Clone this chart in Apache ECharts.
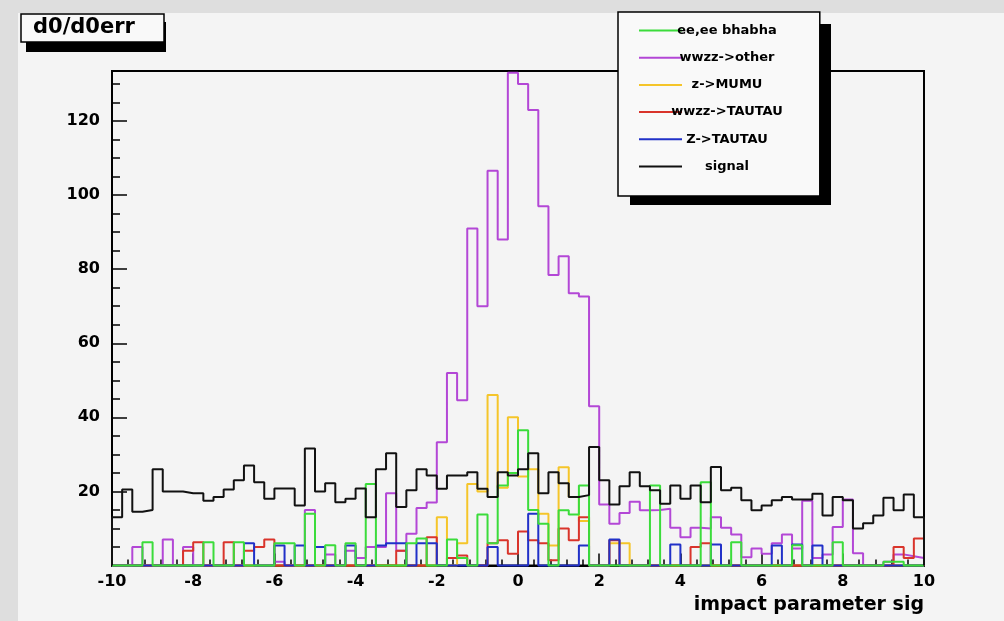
<!DOCTYPE html>
<html>
<head>
<meta charset="utf-8">
<title>d0/d0err</title>
<script src="https://cdn.jsdelivr.net/npm/echarts@6/dist/echarts.min.js"></script>
<style>
  html, body { margin: 0; padding: 0; background: #f4f4f4; }
  #chart { width: 1004px; height: 621px; }
</style>
</head>
<body>
<div id="chart"></div>
<script>
// histogram: 80 bins of 0.25 from -10 to 10
const xMin = -10
const xMax = 10
const nBins = 80

const legendNames = ['ee,ee bhabha', 'wwzz->other', 'z->MUMU', 'wwzz->TAUTAU', 'Z->TAUTAU', 'signal']

const bhabha = [0, 0, 0, 6.3, 0, 0, 0, 0, 0, 6.3,
  0, 0, 6.3, 0, 0, 0, 6, 6, 0, 14,
  0, 5.5, 0, 6, 0, 22, 0, 0, 0, 6,
  7.3, 0, 0, 7, 2, 0, 13.8, 6, 21.6, 25,
  36.5, 15, 11.3, 0, 14.9, 13.8, 21.6, 0, 0, 0,
  0, 0, 0, 21.6, 0, 0, 0, 0, 22.5, 0,
  0, 6.3, 0, 0, 0, 0, 0, 5.5, 0, 0,
  0, 6.3, 0, 0, 0, 0, 1, 1, 0, 0]

const wwzzOther = [0, 0, 5, 0, 0, 7, 0, 5, 0, 0,
  0, 0, 0, 0, 0, 0, 1, 0, 0, 15,
  0, 3, 0, 4, 2, 5, 5, 19.5, 4, 8.6,
  15.5, 17, 33.3, 52, 44.6, 91, 70, 106.6, 88, 133,
  130, 123, 97, 78.4, 83.5, 73.5, 72.6, 43, 16.5, 11.3,
  14.2, 17.2, 14.9, 15, 15.3, 10.2, 7.6, 10.2, 10, 13,
  10.2, 8.4, 2.2, 4.6, 3.2, 6, 8.4, 4.6, 17.5, 2,
  3, 10.4, 17.8, 3.3, 0, 0, 1, 3, 2.5, 2]

const zMumu = [0, 0, 0, 0, 0, 0, 0, 0, 0, 0,
  0, 0, 0, 0, 0, 0, 0, 0, 0, 0,
  0, 0, 0, 0, 0, 0, 0, 0, 0, 0,
  0, 0, 13, 0, 6, 22, 20, 46, 21, 40,
  24, 26, 14, 5.4, 26.5, 18.5, 12, 0, 0, 6,
  6, 0, 0, 0, 0, 0, 0, 0, 0, 0,
  0, 0, 0, 0, 0, 0, 0, 0, 0, 0,
  0, 0, 0, 0, 0, 0, 0, 0, 0, 0]

const wwzzTautau = [0, 0, 0, 0, 0, 0, 0, 4, 6.3, 0,
  0, 6.3, 0, 4, 5, 7, 0, 0, 0, 0,
  0, 0, 0, 0, 0, 0, 0, 0, 4, 0,
  0, 7.6, 0, 2, 2.7, 0, 0, 6, 6.8, 3.2,
  9.2, 6.8, 6, 1.4, 10, 6.8, 13, 0, 0, 6.8,
  0, 0, 0, 0, 0, 0, 0, 5, 6, 0,
  0, 0, 0, 0, 0, 0, 0, 0, 0, 0,
  0, 0, 0, 0, 0, 0, 0, 5, 2, 7.3]

const zTautau = [0, 0, 0, 0, 0, 0, 0, 0, 0, 0,
  0, 0, 0, 6, 0, 0, 5.4, 0, 5.4, 0,
  5, 0, 0, 5.4, 0, 0, 5.4, 6, 6, 0,
  6, 6, 0, 0, 0, 0, 0, 5, 0, 0,
  0, 14, 0, 0, 0, 0, 5.4, 0, 0, 7,
  0, 0, 0, 0, 0, 5.7, 0, 0, 0, 5.7,
  0, 0, 0, 0, 0, 5.4, 0, 5.7, 0, 5.4,
  0, 0, 0, 0, 0, 0, 0, 0, 0, 0]

const signal = [13, 20.5, 14.5, 15, 26, 20, 20, 19.5, 19.5, 17.5,
  18.5, 20.5, 23, 27, 22.5, 18, 20.8, 20.8, 16.2, 31.6,
  20, 22.2, 17.1, 18, 20.8, 13, 26, 30.3, 15.8, 20.3,
  26, 24.3, 20.7, 24.3, 24.3, 25.2, 20.7, 18.5, 25.2, 24.3,
  26, 30.3, 19.5, 25.2, 22.2, 18.5, 19, 32, 23, 16.5,
  21.4, 25.2, 21.4, 20.3, 16.7, 21.6, 18, 21.6, 17.1, 26.6,
  20.3, 21, 17.6, 14.9, 16.2, 17.6, 18.5, 17.8, 17.8, 19.4,
  13.5, 18.5, 17.6, 10, 11.4, 13.5, 18.3, 14.9, 19.2, 13]

const yMax = 133.5
const font = 'DejaVu Sans'

// turn bin contents into step outline points (ROOT style histogram)
const toOutline = (values) => {
  const w = (xMax - xMin) / nBins
  const pts = [[xMin, 0]]
  values.forEach((v, i) => pts.push([xMin + i * w, v]))
  pts.push([xMax, values[values.length - 1]])
  pts.push([xMax, 0])
  return pts
}

const histo = (name, values, color) => ({
  name: name,
  type: 'line',
  step: 'end',
  data: toOutline(values),
  symbol: 'none',
  clip: false,
  lineStyle: { color: color, width: 2 },
  itemStyle: { color: color },
  animation: false
})

const chart = echarts.init(document.getElementById('chart'))

const option = {
  backgroundColor: '#f4f4f4',
  animation: false,
  title: {
    text: 'd0/d0err',
    left: 21,
    top: 14,
    padding: [2, 29, 2, 12],
    backgroundColor: '#f9f9f9',
    borderColor: '#000',
    borderWidth: 1.5,
    textStyle: { fontFamily: font, fontWeight: 'bold', fontSize: 21, lineHeight: 24, color: '#000' }
  },
  graphic: [
    // grey photo border
    { type: 'rect', left: 0, top: 0, shape: { width: 18, height: 621 }, style: { fill: '#dedede' }, z: -10 },
    { type: 'rect', left: 0, top: 0, shape: { width: 1004, height: 13 }, style: { fill: '#dedede' }, z: -10 },
    // drop shadows of the title and legend boxes
    { type: 'rect', left: 26, top: 22, shape: { width: 140, height: 30 }, style: { fill: '#000' }, z: 3 },
    { type: 'rect', left: 630, top: 24, shape: { width: 201, height: 181 }, style: { fill: '#000' }, z: 3 }
  ],
  legend: {
    orient: 'vertical',
    left: 618,
    top: 12,
    data: legendNames,
    icon: 'rect',
    itemWidth: 43,
    itemHeight: 2,
    itemGap: 14.2,
    padding: [12, 37, 23, 21],
    backgroundColor: '#f9f9f9',
    borderColor: '#000',
    borderWidth: 1.5,
    z: 5,
    formatter: (name) => '{t|' + name + '}',
    textStyle: {
      fontFamily: font,
      fontWeight: 'bold',
      fontSize: 13,
      color: '#000',
      rich: { t: { width: 80, lineHeight: 14, align: 'center', fontFamily: font, fontWeight: 'bold', fontSize: 13, color: '#000' } }
    }
  },
  grid: {
    left: 112,
    right: 80,
    top: 71,
    bottom: 55.5,
    show: true,
    borderColor: '#000',
    borderWidth: 2
  },
  xAxis: {
    type: 'value',
    min: xMin,
    max: xMax,
    interval: 2,
    name: 'impact parameter sig',
    nameLocation: 'end',
    nameGap: 0,
    nameTextStyle: {
      fontFamily: font, fontWeight: 'bold', fontSize: 19, color: '#000',
      align: 'right', verticalAlign: 'top', padding: [30, 0, 0, 0]
    },
    axisLine: { show: true, onZero: false, lineStyle: { color: '#000', width: 2 } },
    axisTick: { show: true, inside: true, length: 12, lineStyle: { color: '#000', width: 1.5 } },
    minorTick: { show: true, splitNumber: 5, length: 6, lineStyle: { color: '#000', width: 1.5 } },
    splitLine: { show: false },
    axisLabel: {
      margin: 8, fontFamily: font, fontWeight: 'bold', fontSize: 16, color: '#000',
      showMinLabel: true, showMaxLabel: true
    }
  },
  yAxis: [
    {
      type: 'value',
      min: 0,
      max: yMax,
      interval: 20,
      axisLine: { show: true, onZero: false, lineStyle: { color: '#000', width: 2 } },
      axisTick: { show: true, inside: true, length: 15, lineStyle: { color: '#000', width: 1.5 } },
      splitLine: { show: false },
      axisLabel: {
        margin: 12, fontFamily: font, fontWeight: 'bold', fontSize: 16, color: '#000',
        showMinLabel: false, showMaxLabel: false
      }
    },
    {
      // minor ticks every 5
      type: 'value',
      position: 'left',
      min: 0,
      max: yMax,
      interval: 5,
      axisLine: { show: false, onZero: false },
      axisTick: { show: true, inside: true, length: 8, lineStyle: { color: '#000', width: 1.5 } },
      splitLine: { show: false },
      axisLabel: { show: false }
    }
  ],
  series: [
    histo('wwzz->other', wwzzOther, '#b347d6'),
    histo('z->MUMU', zMumu, '#f5c52a'),
    histo('wwzz->TAUTAU', wwzzTautau, '#d9342b'),
    histo('Z->TAUTAU', zTautau, '#2131c8'),
    histo('ee,ee bhabha', bhabha, '#3bdc3b'),
    histo('signal', signal, '#111111')
  ]
}

chart.setOption(option)

window.addEventListener('resize', () => {
  chart.resize()
})
</script>
</body>
</html>
